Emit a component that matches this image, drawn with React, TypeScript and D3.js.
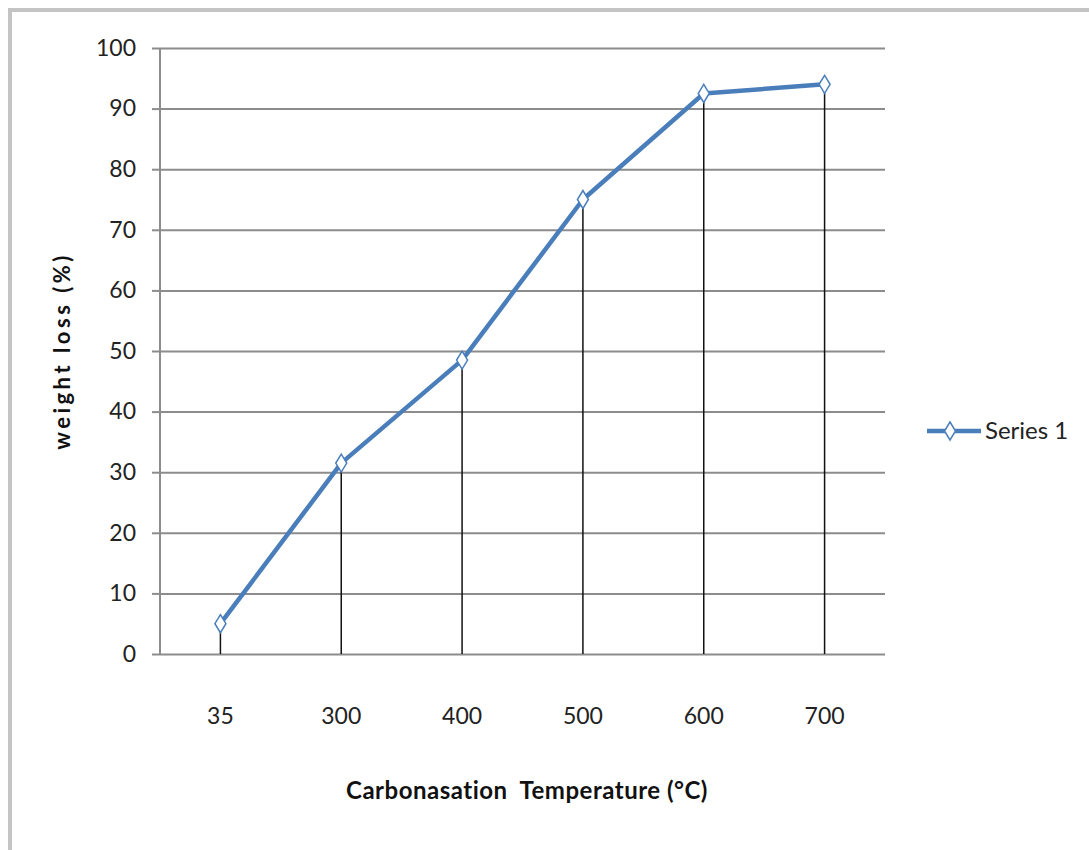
import * as d3 from "d3";
import { useEffect, useRef } from "react";

const categories = ["35", "300", "400", "500", "600", "700"];
const weightLoss = [5, 31.5, 48.5, 75, 92.5, 94];
const yTicks = [0, 10, 20, 30, 40, 50, 60, 70, 80, 90, 100];
const seriesName = "Series 1";

export default function App() {
  const ref = useRef<SVGSVGElement>(null);

  useEffect(() => {
    if (!ref.current) return;
    const svg = d3.select(ref.current);
    svg.selectAll("*").remove();

    const width = 1089,
      height = 850,
      margin = { top: 48, right: 204, bottom: 196, left: 160 };
    const font = "Lato, 'Open Sans', sans-serif";
    const blue = "#4a7ebb";

    svg.attr("width", width).attr("height", height);

    // outer frame
    svg.append("rect")
      .attr("x", 10).attr("y", 10)
      .attr("width", width + 10).attr("height", height + 10)
      .attr("fill", "#fff")
      .attr("stroke", "#c4c4c4")
      .attr("stroke-width", 4);

    const x = d3.scaleBand()
      .domain(categories)
      .range([margin.left, width - margin.right]);

    const y = d3.scaleLinear()
      .domain([0, 100])
      .range([height - margin.bottom, margin.top]);

    // grid lines
    svg.append("g")
      .attr("transform", `translate(${margin.left}, 0)`)
      .call(d3.axisLeft(y).tickValues(yTicks)
        .tickSize(-(width - margin.left - margin.right))
        .tickFormat(() => ""))
      .call(g => g.select(".domain").remove())
      .call(g => g.selectAll("line")
        .attr("stroke", "#8c8c8c")
        .attr("stroke-width", 2)
        .attr("x1", 0));

    // y axis with tick marks
    svg.append("g")
      .attr("transform", `translate(${margin.left}, 0)`)
      .call(d3.axisLeft(y).tickValues(yTicks).tickSize(8).tickPadding(16))
      .call(g => g.select(".domain")
        .attr("stroke", "#8c8c8c").attr("stroke-width", 2)
        .attr("d", `M0,${y(0)}V${y(100)}`))
      .call(g => g.selectAll("line").attr("stroke", "#8c8c8c").attr("stroke-width", 2))
      .call(g => g.selectAll("text")
        .attr("fill", "#222")
        .attr("font-family", font)
        .attr("font-size", "23px"));

    // x axis labels (no visible ticks)
    svg.append("g")
      .attr("transform", `translate(0, ${y(0)})`)
      .call(d3.axisBottom(x).tickSize(0).tickPadding(54))
      .call(g => g.select(".domain").remove())
      .call(g => g.selectAll("text")
        .attr("fill", "#222")
        .attr("font-family", font)
        .attr("font-size", "23px"));

    const cx = (c: string) => (x(c) ?? 0) + x.bandwidth() / 2;

    // drop lines
    svg.append("g")
      .selectAll("line")
      .data(categories)
      .join("line")
      .attr("x1", d => cx(d))
      .attr("x2", d => cx(d))
      .attr("y1", (d, i) => y(weightLoss[i]))
      .attr("y2", y(0))
      .attr("stroke", "#111")
      .attr("stroke-width", 1.5);

    // series line
    const line = d3.line<number>()
      .x((d, i) => cx(categories[i]))
      .y(d => y(d));

    svg.append("path")
      .datum(weightLoss)
      .attr("d", line)
      .attr("fill", "none")
      .attr("stroke", blue)
      .attr("stroke-width", 4.5)
      .attr("stroke-linejoin", "round");

    const diamond = "M0,-9L5.5,0L0,9L-5.5,0Z";
    svg.append("g")
      .selectAll("path")
      .data(weightLoss)
      .join("path")
      .attr("transform", (d, i) => `translate(${cx(categories[i])},${y(d)})`)
      .attr("d", diamond)
      .attr("fill", "#fff")
      .attr("stroke", blue)
      .attr("stroke-width", 1.5);

    // legend
    const lg = svg.append("g").attr("transform", "translate(927, 431)");
    lg.append("line")
      .attr("x1", 0).attr("x2", 54)
      .attr("stroke", blue).attr("stroke-width", 4.5);
    lg.append("path")
      .attr("transform", "translate(23,0)")
      .attr("d", diamond)
      .attr("fill", "#fff")
      .attr("stroke", blue)
      .attr("stroke-width", 1.5);
    lg.append("text")
      .attr("x", 58).attr("y", 8)
      .attr("fill", "#222")
      .attr("font-family", font)
      .attr("font-size", "24px")
      .text(seriesName);

    // axis titles
    svg.append("text")
      .attr("transform", `translate(70, ${(y(0) + y(100)) / 2}) rotate(-90)`)
      .attr("text-anchor", "middle")
      .attr("fill", "#111")
      .attr("font-family", font)
      .attr("font-weight", "bold")
      .attr("font-size", "22px")
      .attr("letter-spacing", "3.5px")
      .text("weight loss (%)");

    svg.append("text")
      .attr("x", 527).attr("y", 799)
      .attr("text-anchor", "middle")
      .attr("fill", "#111")
      .attr("font-family", font)
      .attr("font-weight", "bold")
      .attr("font-size", "24px")
      .attr("letter-spacing", "0.5px")
      .style("white-space", "pre")
      .text("Carbonasation  Temperature (°C)");
  }, []);

  return (
    <svg
      ref={ref}
      style={{ position: "absolute", left: 0, top: 0, display: "block" }}
    />
  );
}
